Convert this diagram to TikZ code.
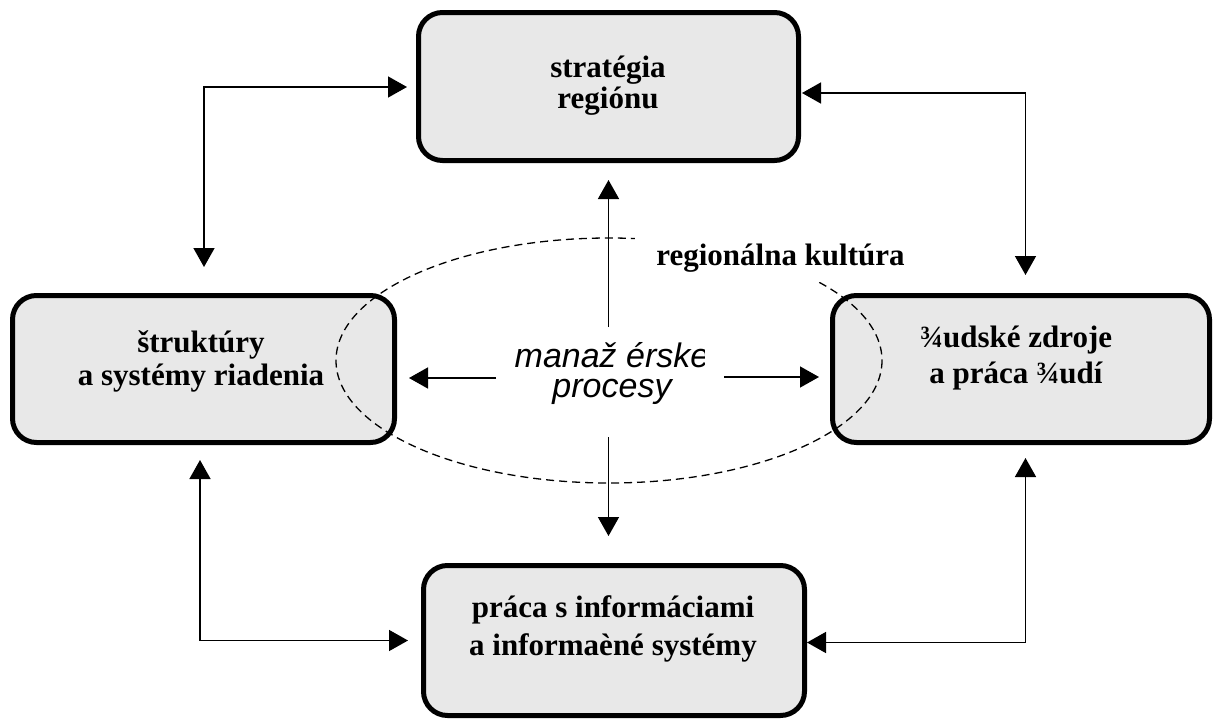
\documentclass[tikz,border=0pt]{standalone}
\usepackage{fontspec}
\setmainfont{Liberation Serif}
\setsansfont{Liberation Sans}
\usetikzlibrary{arrows.meta,calc}
\definecolor{boxgray}{HTML}{E8E8E8}
\begin{document}
\begin{tikzpicture}[x=1pt,y=-1pt,
  box/.style={draw=black, line width=5pt, rounded corners=24pt, fill=boxgray, inner sep=0pt},
  btxt/.style={align=center, anchor=base, inner sep=0pt},
  con/.style={line width=1.5pt, {Triangle[length=19pt,width=21pt]}-{Triangle[length=19pt,width=21pt]}},
  one/.style={line width=1.5pt, -{Triangle[length=19pt,width=21pt]}},
  culture/.style={draw=black, line width=1.3pt, dash pattern=on 8pt off 5pt}
]
\useasboundingbox (0,0) rectangle (1213,720);
% boxes
\node[box, minimum width=380pt, minimum height=148pt] (top) at (608.5,86.5) {};
\node[box, minimum width=382pt, minimum height=147pt] (left) at (203.5,369) {};
\node[box, minimum width=377pt, minimum height=147pt] (right) at (1021,369) {};
\node[box, minimum width=381pt, minimum height=150pt] (bot) at (614,640.5) {};
% culture ellipse
\draw[culture] (609,360.5) ellipse [x radius=273, y radius=122.5];
% box texts (anchored at the baseline of the last line)
\node[btxt, font=\bfseries\fontsize{31}{31.5}\selectfont] (topt) at (608,108.5) {stratégia\\regiónu};
\node[btxt, font=\bfseries\fontsize{31}{33}\selectfont] (leftt) at (201,385) {štruktúry\\a systémy riadenia};
\node[btxt, font=\bfseries\fontsize{31}{36}\selectfont] (rightt) at (1016,383) {¾udské zdroje\\a práca ¾udí};
\node[btxt, font=\bfseries\fontsize{31}{38}\selectfont] (bott) at (613,655) {práca s informáciami\\a informaèné systémy};
% label
\node[font=\bfseries\fontsize{31}{31}\selectfont, fill=white, inner xsep=21pt, inner ysep=10pt, anchor=base] (rk) at (780.5,265) {regionálna kultúra};
% centre text
\begin{scope}
\clip (470,320) rectangle (704,420);
\node[btxt, font=\sffamily\itshape\fontsize{34}{30}\selectfont] (mp) at (612,397) {manaž érske\\procesy};
\end{scope}
\coordinate (cU) at (608.5,327);
\coordinate (cD) at (608.5,437);
\coordinate (cL) at (496,378);
\coordinate (cR) at (724,377);
% central arrows
\draw[one] (cU) -- ($(top.south)+(0,17)$);
\draw[one] (cD) -- ($(bot.north)+(-5.5,-27)$);
\draw[one] (cL) -- ($(left.east)+(12,9)$);
\draw[one] (cR) -- ($(right.west)+(-11,8)$);
% outer loops
\draw[con] ($(top.west)+(-9,0.5)$) -| ($(left.north)+(0.5,-26)$);
\draw[con] ($(top.east)+(1,6.5)$) -| ($(right.north)+(4.5,-18)$);
\draw[con] ($(left.south)+(-3.5,15)$) |- ($(bot.west)+(-13,0)$);
\draw[con] ($(right.south)+(4.5,13)$) |- ($(bot.east)+(0,2)$);
\end{tikzpicture}
\end{document}
